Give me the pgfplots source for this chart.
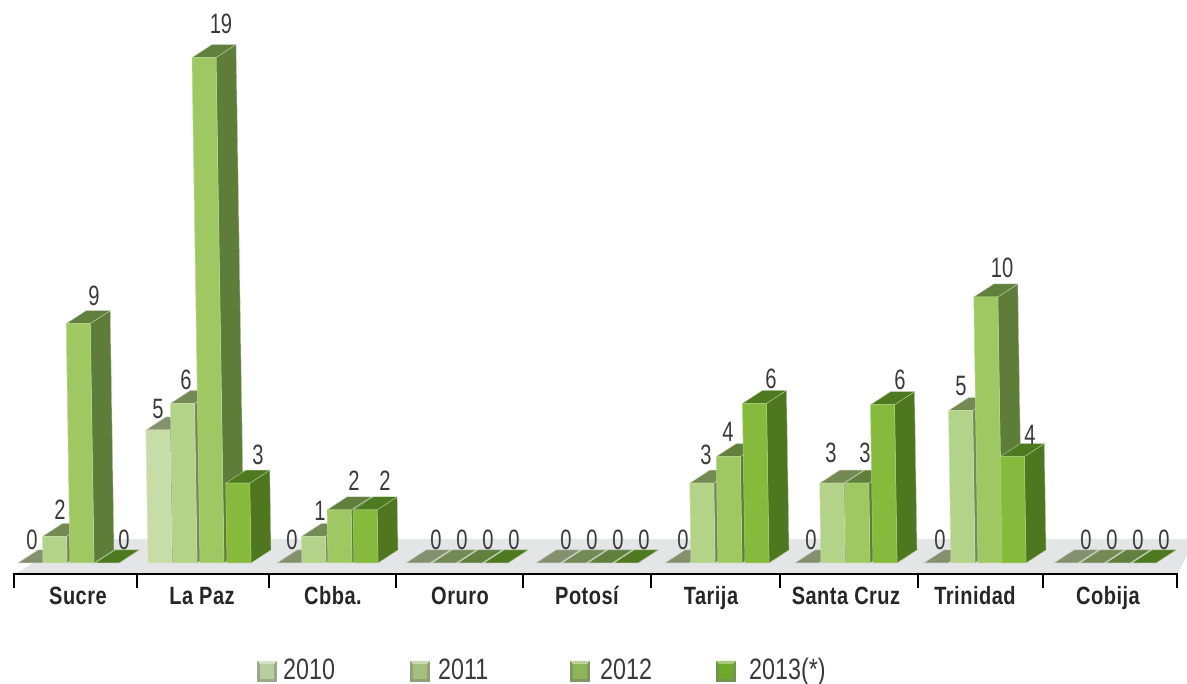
\documentclass[border=0pt]{standalone}
\usepackage{fontspec}
\usepackage{pgfplots}
\pgfplotsset{compat=1.18}
\newfontfamily\numfont[FakeStretch=0.72]{Liberation Sans}
\newfontfamily\legfont[FakeStretch=0.79]{Liberation Sans}
\newfontfamily\catfont[FakeStretch=0.80,LetterSpace=2]{Liberation Sans}
\definecolor{fa}{HTML}{C8DCA8}\definecolor{fb}{HTML}{B3D388}\definecolor{fc}{HTML}{9FC862}\definecolor{fd}{HTML}{86BA3C}
\definecolor{sa}{HTML}{7E8C6C}\definecolor{sb}{HTML}{738A5C}\definecolor{sc}{HTML}{5E7D38}\definecolor{sd}{HTML}{4F7720}
\definecolor{ta}{HTML}{84916F}\definecolor{tb}{HTML}{738A55}\definecolor{tc}{HTML}{617F3D}\definecolor{td}{HTML}{4E7A1F}
\definecolor{la}{HTML}{B9CE9F}\definecolor{lb}{HTML}{A3C07C}\definecolor{lc}{HTML}{8FB656}\definecolor{ld}{HTML}{6FA92B}
\definecolor{floorc}{HTML}{E4E5E7}\definecolor{txt}{HTML}{3A3A3C}
% #1 x of front bottom-left (px), #2 height (value), #3 series letter
\newcommand\tdbar[3]{%
 \pgfmathsetmacro\xa{#1}\pgfmathsetmacro\xb{#1+24}%
 \pgfmathsetmacro\xc{#1+24-0.42*#2}\pgfmathsetmacro\xd{#1-0.42*#2}%
 \pgfmathsetmacro\xe{#1+24-0.42*#2+20}\pgfmathsetmacro\xf{#1-0.42*#2+20}%
 \pgfmathsetmacro\xg{#1+24+20}%
 \pgfmathsetmacro\yt{#2}\pgfmathsetmacro\yu{#2+0.489}%
 \addplot[fill=s#3,draw=white!60!s#3,line width=0.4pt] coordinates {(\xb,0) (\xg,0.489) (\xe,\yu) (\xc,\yt) (\xb,0)};
 \addplot[fill=t#3,draw=white!60!t#3,line width=0.4pt] coordinates {(\xd,\yt) (\xc,\yt) (\xe,\yu) (\xf,\yu) (\xd,\yt)};
 \addplot[fill=f#3,draw=white!30!f#3,line width=0.5pt] coordinates {(\xa,0) (\xb,0) (\xc,\yt) (\xd,\yt) (\xa,0)};
}
\newcommand\tdzero[2]{%
 \pgfmathsetmacro\xa{#1}\pgfmathsetmacro\xb{#1+24}%
 \pgfmathsetmacro\xc{#1+24+20}\pgfmathsetmacro\xd{#1+20}%
 \addplot[fill=t#2,draw=white!50!t#2,line width=0.5pt] coordinates {(\xa,0) (\xb,0) (\xc,0.489) (\xd,0.489) (\xa,0)};
}
% value label: x px, y px, text
\newcommand\vl[3]{\node[font=\numfont\fontsize{28}{28}\selectfont,text=txt,inner sep=0pt] at (axis cs:#1,{(563-#2)/26.6}) {#3};}
\newcommand\cl[2]{\node[font=\catfont\bfseries\fontsize{25}{25}\selectfont,text=black!85,inner sep=0pt,anchor=base] at (axis cs:#1,{(563-604.5)/26.6}) {#2};}
\newcommand\tk[1]{\addplot[black,line width=2pt] coordinates {(#1,-0.40) (#1,-0.955)};}
\newcommand\lgd[5]{% x sq, fill, dark, text x, text
 \fill[#3!80!white] (axis cs:#1,{(563-682)/26.6}) rectangle (axis cs:{#1+20},{(563-661)/26.6});
 \fill[#2!60!white] (axis cs:#1,{(563-661)/26.6}) -- (axis cs:{#1+20},{(563-661)/26.6}) -- (axis cs:{#1+17},{(563-664)/26.6}) -- (axis cs:{#1+3},{(563-664)/26.6}) -- cycle;
 \fill[#2] (axis cs:{#1+3},{(563-679)/26.6}) rectangle (axis cs:{#1+17},{(563-664)/26.6});
 \node[font=\legfont\fontsize{29.5}{29.5}\selectfont,text=txt,inner sep=0pt,anchor=base west] at (axis cs:#4,{(563-680)/26.6}) {#5};
}
\begin{document}
\begin{tikzpicture}
\path[use as bounding box] (0,0) rectangle (1187pt,684pt);
\begin{axis}[
  scale only axis, width=1187pt, height=684pt,
  anchor=south west, at={(0,0)},
  xmin=0, xmax=1187, ymin=-4.5489, ymax=21.1654,
  axis line style={draw=none}, ticks=none, clip=false,
]
% floor
\addplot[fill=floorc,draw=none] coordinates {(17,-0.376) (72,0.902) (1187,0.902) (1187,0.30) (1178,-0.376) (17,-0.376)};
% Sucre
\tdzero{18}{a}\tdbar{43}{1}{b}\tdbar{70}{9}{c}\tdzero{95}{d}
% La Paz
\tdbar{148}{5}{a}\tdbar{173}{6}{b}\tdbar{200}{19}{c}\tdbar{227}{3}{d}
% Cbba
\tdzero{277}{a}\tdbar{302}{1}{b}\tdbar{328}{2}{c}\tdbar{354}{2}{d}
% Oruro
\tdzero{406}{a}\tdzero{432}{b}\tdzero{458}{c}\tdzero{484}{d}
% Potosi
\tdzero{536}{a}\tdzero{562}{b}\tdzero{588}{c}\tdzero{614}{d}
% Tarija
\tdzero{665}{a}\tdbar{691}{3}{b}\tdbar{718}{4}{c}\tdbar{745}{6}{d}
% Santa Cruz
\tdzero{795}{a}\tdbar{821}{3}{b}\tdbar{846}{3}{c}\tdbar{873}{5.95}{d}
% Trinidad
\tdzero{924}{a}\tdbar{951}{5.73}{b}\tdbar{978}{10}{c}\tdbar{1002}{4}{d}
% Cobija
\tdzero{1054}{a}\tdzero{1080}{b}\tdzero{1106}{c}\tdzero{1132}{d}
% axis line and ticks
\addplot[black,line width=2pt] coordinates {(13,-0.40) (1178,-0.40)};
\tk{14}\tk{137}\tk{269}\tk{396}\tk{523}\tk{651}\tk{780}\tk{918}\tk{1043}\tk{1177}
% value labels
\vl{32}{540}{0}\vl{60}{510}{2}\vl{94}{296}{9}\vl{124}{540}{0}
\vl{158}{409}{5}\vl{186}{380}{6}\vl{221}{24}{19}\vl{258}{455}{3}
\vl{292}{540}{0}\vl{320}{511}{1}\vl{354}{481}{2}\vl{385}{481}{2}
\vl{436}{540}{0}\vl{462}{540}{0}\vl{488}{540}{0}\vl{514}{540}{0}
\vl{566}{540}{0}\vl{592}{540}{0}\vl{618}{540}{0}\vl{644}{540}{0}
\vl{683}{540}{0}\vl{706}{455}{3}\vl{728}{432}{4}\vl{771}{379}{6}
\vl{811}{540}{0}\vl{831}{453}{3}\vl{865}{453}{3}\vl{900}{380}{6}
\vl{940}{540}{0}\vl{961}{386}{5}\vl{1002}{268}{10}\vl{1030}{435}{4}
\vl{1086}{540}{0}\vl{1112}{540}{0}\vl{1138}{540}{0}\vl{1164}{540}{0}
% categories
\cl{78}{Sucre}\cl{202}{La Paz}\cl{333}{Cbba.}\cl{460}{Oruro}\cl{587}{Potosí}
\cl{711}{Tarija}\cl{846}{Santa Cruz}\cl{975}{Trinidad}\cl{1108}{Cobija}
% legend
\lgd{257}{la}{ta}{283}{2010}
\lgd{410}{lb}{tb}{438}{2011}
\lgd{570}{lc}{tc}{600}{2012}
\lgd{716}{ld}{td}{749}{2013(*)}
\end{axis}
\end{tikzpicture}
\end{document}
